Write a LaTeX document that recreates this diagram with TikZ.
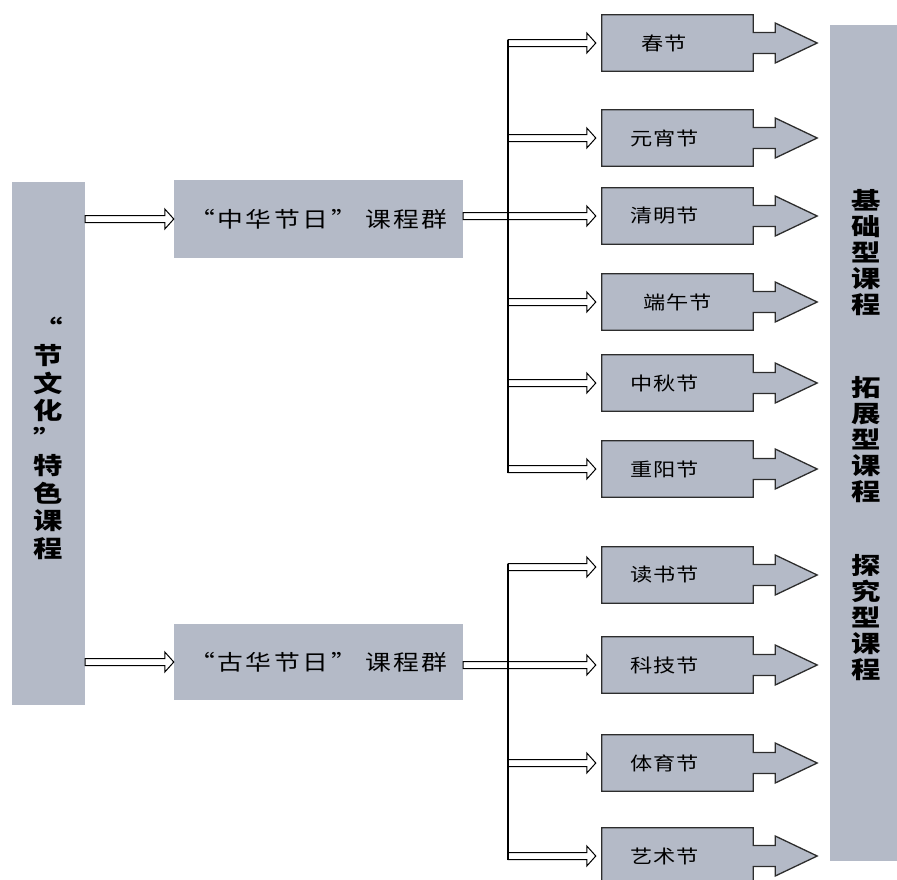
\documentclass[tikz,border=0pt]{standalone}
\usepackage{fontspec}
\usepackage{graphicx}
\setmainfont{Noto Sans CJK SC}
\newfontfamily\festfam[LetterSpace=4]{Noto Sans CJK SC}
\newfontfamily\grpfam[LetterSpace=10]{Noto Sans CJK SC}
\usetikzlibrary{calc,backgrounds}
\definecolor{boxgray}{RGB}{180,186,199}
\definecolor{edgegray}{RGB}{45,45,45}
\newcommand\ft[1]{\makebox[151pt][l]{\makebox[125pt]{\scalebox{1.2}[1]{#1}}}}
\newcommand\sx[1]{\scalebox{1.25}[1]{#1}}
\tikzset{
  tallbox/.style={fill=boxgray, inner sep=0pt},
  grpbox/.style={fill=boxgray, minimum width=289pt, inner sep=0pt,
    font=\grpfam\fontsize{21.5}{24}\selectfont},
  festbox/.style={minimum width=151pt, minimum height=56pt, inner sep=0pt,
    font=\festfam\fontsize{18.5}{20}\selectfont},
  vtext/.style={align=center, inner sep=0pt,
    font=\bfseries\fontsize{23.5}{26}\selectfont},
  festline/.style={fill=boxgray, draw=edgegray, line width=1.3pt, line join=miter},
  hollow/.style={draw=black, fill=white, line width=1pt, line join=miter,
    to path={let \p1=(\tikztostart), \p2=(\tikztotarget) in
      (\x1,\y2+3.5pt) -- (\x2-9pt,\y2+3.5pt) -- (\x2-9pt,\y2+10pt) -- (\x2,\y2)
      -- (\x2-9pt,\y2-10pt) -- (\x2-9pt,\y2-3.5pt) -- (\x1,\y2-3.5pt) -- cycle}},
  trunkline/.style={draw=black, line width=1.3pt}
}
\newcommand\festshape[1]{%
  \path[festline] (#1.north west) -- (#1.north east)
    -- ($(#1.east)+(0,-10.5)$) -- ($(#1.east)+(22,-10.5)$)
    -- ($(#1.east)+(22,-20)$) -- ($(#1.east)+(64,0)$)
    -- ($(#1.east)+(22,20)$) -- ($(#1.east)+(22,10.5)$)
    -- ($(#1.east)+(0,10.5)$) -- (#1.south east)
    -- (#1.south west) -- cycle;}
\begin{document}
\begin{tikzpicture}[x=1pt,y=-1pt]
\useasboundingbox (0,0) rectangle (897,879);
\clip (0,0) rectangle (897,879);
% left tall box
\node[tallbox, minimum width=73pt, minimum height=523pt] (L) at (48.5,443.5) {};
\node[vtext, font=\bfseries\fontsize{23.5}{27.5}\selectfont] (Lt) at (48.5,438)
  {\sx{“}\\\sx{节}\\\sx{文}\\\sx{化}\\\sx{”}\\\sx{特}\\\sx{色}\\\sx{课}\\\sx{程}};
% right tall box
\node[tallbox, minimum width=70pt, minimum height=836pt] (R) at (865,443) {};
\node[vtext] (r1) at (866,253) {\sx{基}\\\sx{础}\\\sx{型}\\\sx{课}\\\sx{程}};
\node[vtext] (r2) at (866,440) {\sx{拓}\\\sx{展}\\\sx{型}\\\sx{课}\\\sx{程}};
\node[vtext] (r3) at (866,618) {\sx{探}\\\sx{究}\\\sx{型}\\\sx{课}\\\sx{程}};
% group boxes
\node[grpbox, minimum height=78pt] (G1) at (318.5,219) {\scalebox{1.2}[1]{“中华节日” 课程群}};
\node[grpbox, minimum height=76pt] (G2) at (318.5,662) {\scalebox{1.2}[1]{“古华节日” 课程群}};
% festival boxes
\node[festbox] (b1) at (677.5,43) {\ft{春节}};
\node[festbox] (b2) at (677.5,138) {\ft{元宵节}};
\node[festbox] (b3) at (677.5,216) {\ft{清明节}};
\node[festbox] (b4) at (677.5,302) {\scalebox{1.2}[1]{端午节}};
\node[festbox] (b5) at (677.5,383) {\ft{中秋节}};
\node[festbox] (b6) at (677.5,469) {\ft{重阳节}};
\node[festbox] (b7) at (677.5,575) {\ft{读书节}};
\node[festbox] (b8) at (677.5,665) {\ft{科技节}};
\node[festbox] (b9) at (677.5,763) {\ft{体育节}};
\node[festbox] (b10) at (677.5,856) {\ft{艺术节}};
\begin{scope}[on background layer]
  \festshape{b1}\festshape{b2}\festshape{b3}\festshape{b4}\festshape{b5}
  \festshape{b6}\festshape{b7}\festshape{b8}\festshape{b9}\festshape{b10}
\end{scope}
% arrows from the left box
\draw[hollow] (L.east |- G1.west) to (G1.west);
\draw[hollow] (L.east |- G2.west) to (G2.west);
% trunks
\coordinate (T1) at (508,0);
\coordinate (T2) at (508,0);
\draw[hollow] (G1.east) to ([xshift=-6pt]b3.west);
\draw[hollow] (G2.east) to ([xshift=-6pt]b8.west);
\foreach \b in {b1,b2,b4,b5,b6}{
  \draw[hollow] (T1 |- \b.west) to ([xshift=-6pt]\b.west);
}
\draw[hollow] (T2 |- b7.west) to ([xshift=-6pt,yshift=8pt]b7.west);
\foreach \b in {b9,b10}{
  \draw[hollow] (T2 |- \b.west) to ([xshift=-6pt]\b.west);
}
\draw[trunkline] ($(T1 |- b1.west)+(0,-3.5)$) -- ($(T1 |- b6.west)+(0,3.5)$);
\draw[trunkline] ($(T2 |- b7.west)+(0,-11.5)$) -- ($(T2 |- b10.west)+(0,3.5)$);
\end{tikzpicture}
\end{document}
